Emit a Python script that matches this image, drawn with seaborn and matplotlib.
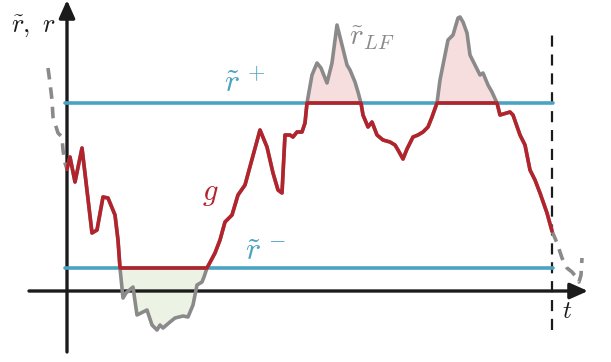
import numpy as np
import pandas as pd
import matplotlib
matplotlib.use("Agg")
import matplotlib.pyplot as plt
import seaborn as sns

# Low-frequency reference signal r~_LF (time t, level r)
t_lf = [0, 3, 8, 15, 25, 30, 36, 41, 48, 51, 53, 56, 59, 66, 70, 76, 80, 85, 90, 93,
        96, 103, 108, 116, 121, 126, 130, 135, 137, 140, 148, 153, 158, 165, 171, 178,
        193, 200, 206, 211, 215, 218, 223, 226, 230, 235, 238, 240, 245, 250, 254, 260,
        265, 270, 275, 280, 283, 288, 291, 294, 296, 301, 305, 310, 316, 323, 328, 331,
        336, 340, 346, 351, 356, 361, 365, 370, 373, 378, 381, 386, 391, 393, 396, 400,
        403, 408, 413, 416, 421, 425, 430, 433, 443, 446, 453, 458, 463, 468, 473, 480, 485]
r_lf = [122, 134, 109, 143, 58, 61, 94, 93, 76, 51, 23, -7, -2, 4, -24, -21, -19, -34, -39, -34,
        -37, -31, -27, -25, -26, -14, 6, 9, 14, 23, 38, 51, 69, 76, 96, 106,
        161, 144, 118, 101, 98, 156, 156, 154, 159, 159, 168, 188, 216, 228, 223, 208,
        228, 266, 246, 226, 221, 209, 199, 188, 176, 164, 169, 156, 151, 149, 146, 141,
        132, 142, 154, 156, 159, 164, 174, 188, 211, 236, 251, 256, 273, 274, 269, 258,
        236, 226, 216, 218, 206, 199, 188, 176, 179, 176, 156, 146, 121, 111, 98, 78, 60]

# Signal before the window start and after its end
t_pre = [-19, -17, -15, -14, -9, -5, -4, -2, 0]
r_pre = [223, 208, 191, 174, 158, 154, 141, 128, 122]
t_post = [485, 490, 495, 500, 505, 510, 512, 514, 515]
r_post = [60, 48, 33, 23, 19, 13, 9, 16, 33]

# Band limits
r_plus = 188
r_minus = 23
t_end = 485

RED = "#b3232b"
GRAY = "#8a8a8a"
BLUE = "#4aa3c0"
INK = "#1b1b1b"

sns.set_theme(style="white")
plt.rcParams["mathtext.fontset"] = "cm"

fig = plt.figure(figsize=(6.11, 3.62), dpi=100)
ax = fig.add_axes([0, 0, 1, 1])

df = pd.DataFrame({"t": t_lf, "r": r_lf})
df["g"] = np.clip(df["r"], r_minus, r_plus)
tt = np.array(t_lf, dtype=float)
rr = np.array(r_lf, dtype=float)

# shaded excursions outside the band
ax.fill_between(tt, rr, r_plus, where=rr >= r_plus, color="#f6dede", lw=0, zorder=1)
ax.fill_between(tt, rr, r_minus, where=rr <= r_minus, color="#edf3e4", lw=0, zorder=1)

# coordinate axes with arrow heads
ax.annotate("", xy=(521, 0), xytext=(-38, 0),
            arrowprops=dict(arrowstyle="-|>,head_length=0.9,head_width=0.4",
                            color=INK, lw=2.4, shrinkA=0, shrinkB=0), zorder=2)
ax.annotate("", xy=(0, 291), xytext=(0, -61),
            arrowprops=dict(arrowstyle="-|>,head_length=0.9,head_width=0.4",
                            color=INK, lw=2.4, shrinkA=0, shrinkB=0), zorder=2)

# window end
ax.plot([t_end, t_end], [-39, 261], color=INK, lw=1.6, ls=(0, (5, 3.5)), zorder=2)

# band limits
ax.plot([-2, 486], [r_plus, r_plus], color=BLUE, lw=2.6, zorder=3)
ax.plot([-2, 486], [r_minus, r_minus], color=BLUE, lw=2.6, zorder=3)

# signals
sns.lineplot(data=df, x="t", y="r", ax=ax, color=GRAY, lw=2.6, sort=False,
             estimator=None, zorder=4)
sns.lineplot(data=df, x="t", y="g", ax=ax, color=RED, lw=2.6, sort=False,
             estimator=None, zorder=5)
ax.plot(t_pre, r_pre, color=GRAY, lw=2.6, ls=(0, (3.2, 2.2)), zorder=4)
ax.plot(t_post, r_post, color=GRAY, lw=2.6, ls=(0, (3.2, 2.2)), zorder=4)
ax.set_xlim(-67, 544)
ax.set_ylim(-71, 291)
ax.axis("off")

# labels
ax.text(-34, 265, r"$\tilde{r},\ r$", fontsize=19, color=INK, ha="center", va="center")
ax.text(178, 208, r"$\tilde{r}^{\,+}$", fontsize=23, color=BLUE, ha="center", va="center")
ax.text(198, 40, r"$\tilde{r}^{\,-}$", fontsize=23, color=BLUE, ha="center", va="center")
ax.text(143, 98, r"$g$", fontsize=22, color=RED, ha="center", va="center")
ax.text(305, 253, r"$\tilde{r}_{LF}$", fontsize=21, color=GRAY, ha="center", va="center")
ax.text(500, -20, r"$t$", fontsize=18, color=INK, ha="center", va="center")

fig.savefig("out.png", dpi=100)
